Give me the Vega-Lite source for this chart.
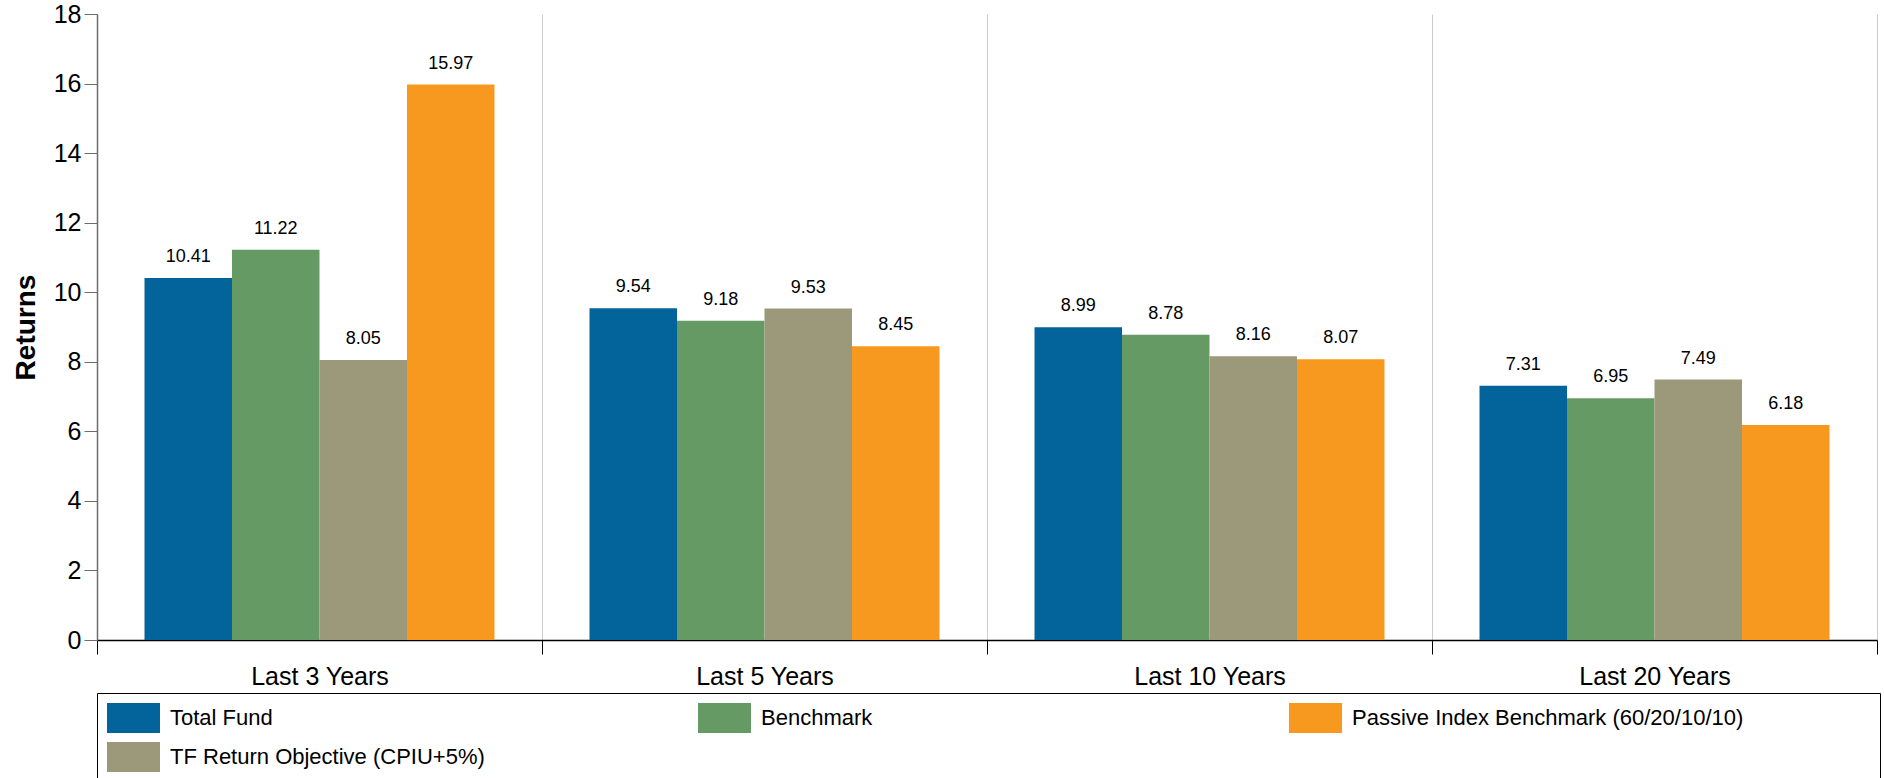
{
  "$schema": "https://vega.github.io/schema/vega-lite/v6.json",
  "autosize": {"type": "none"},
  "padding": {"left": 97, "top": 14, "right": 7, "bottom": 138},
  "width": 1780,
  "height": 626,
  "background": "white",
  "config": {
    "font": "Liberation Sans",
    "view": {"stroke": null}
  },
  "data": {
    "values": [
      {"period": "Last 3 Years", "series": "Total Fund", "value": 10.41},
      {"period": "Last 3 Years", "series": "Benchmark", "value": 11.22},
      {"period": "Last 3 Years", "series": "TF Return Objective (CPIU+5%)", "value": 8.05},
      {"period": "Last 3 Years", "series": "Passive Index Benchmark (60/20/10/10)", "value": 15.97},
      {"period": "Last 5 Years", "series": "Total Fund", "value": 9.54},
      {"period": "Last 5 Years", "series": "Benchmark", "value": 9.18},
      {"period": "Last 5 Years", "series": "TF Return Objective (CPIU+5%)", "value": 9.53},
      {"period": "Last 5 Years", "series": "Passive Index Benchmark (60/20/10/10)", "value": 8.45},
      {"period": "Last 10 Years", "series": "Total Fund", "value": 8.99},
      {"period": "Last 10 Years", "series": "Benchmark", "value": 8.78},
      {"period": "Last 10 Years", "series": "TF Return Objective (CPIU+5%)", "value": 8.16},
      {"period": "Last 10 Years", "series": "Passive Index Benchmark (60/20/10/10)", "value": 8.07},
      {"period": "Last 20 Years", "series": "Total Fund", "value": 7.31},
      {"period": "Last 20 Years", "series": "Benchmark", "value": 6.95},
      {"period": "Last 20 Years", "series": "TF Return Objective (CPIU+5%)", "value": 7.49},
      {"period": "Last 20 Years", "series": "Passive Index Benchmark (60/20/10/10)", "value": 6.18}
    ]
  },
  "encoding": {
    "x": {
      "field": "period",
      "type": "nominal",
      "sort": ["Last 3 Years", "Last 5 Years", "Last 10 Years", "Last 20 Years"],
      "scale": {"paddingInner": 0, "paddingOuter": 0},
      "axis": {
        "title": null,
        "labelAngle": 0,
        "labelFontSize": 25,
        "labelColor": "#000000",
        "labelPadding": 10,
        "tickBand": "extent",
        "tickSize": 14,
        "tickColor": "#000000",
        "tickWidth": 1,
        "domainColor": "#000000",
        "domainWidth": 1.5,
        "grid": true,
        "gridColor": "#cccccc",
        "gridWidth": 1
      }
    },
    "xOffset": {
      "field": "series",
      "type": "nominal",
      "scale": {
        "domain": ["Total Fund", "Benchmark", "TF Return Objective (CPIU+5%)", "Passive Index Benchmark (60/20/10/10)"],
        "paddingInner": 0,
        "paddingOuter": 0.543
      }
    },
    "y": {
      "field": "value",
      "type": "quantitative",
      "scale": {"domain": [0, 18], "nice": false},
      "axis": {
        "title": "Returns",
        "titleFontSize": 28,
        "titleFontWeight": "bold",
        "titleColor": "#000000",
        "titlePadding": 13,
        "values": [0, 2, 4, 6, 8, 10, 12, 14, 16, 18],
        "labelFontSize": 25,
        "labelColor": "#000000",
        "labelPadding": 3,
        "tickSize": 13,
        "tickColor": "#6d6d6d",
        "domainColor": "#6d6d6d",
        "domainWidth": 1.5,
        "grid": false
      }
    }
  },
  "layer": [
    {
      "mark": {"type": "bar"},
      "encoding": {
        "color": {
          "field": "series",
          "type": "nominal",
          "scale": {
            "domain": ["Total Fund", "Benchmark", "Passive Index Benchmark (60/20/10/10)", "TF Return Objective (CPIU+5%)"],
            "range": ["#02649a", "#669a65", "#f8991f", "#9b997a"]
          },
          "legend": {
            "title": null,
            "orient": "none",
            "legendX": 0,
            "legendY": 679,
            "direction": "horizontal",
            "columns": 3,
            "gridAlign": "all",
            "columnPadding": 10,
            "rowPadding": 9,
            "padding": 10,
            "strokeColor": "#000000",
            "fillColor": "white",
            "symbolType": "M-1,-1L2.533,-1L2.533,1L-1,1ZM37.67,0",
            "symbolSize": 900,
            "symbolStrokeWidth": 0,
            "symbolOpacity": 1,
            "labelFontSize": 22,
            "labelColor": "#000000",
            "labelOffset": 33,
            "labelLimit": 500
          }
        }
      }
    },
    {
      "mark": {"type": "text", "baseline": "alphabetic", "dy": -16, "fontSize": 18, "color": "#000000"},
      "encoding": {
        "text": {"field": "value", "type": "quantitative", "format": ".2f"}
      }
    }
  ]
}
